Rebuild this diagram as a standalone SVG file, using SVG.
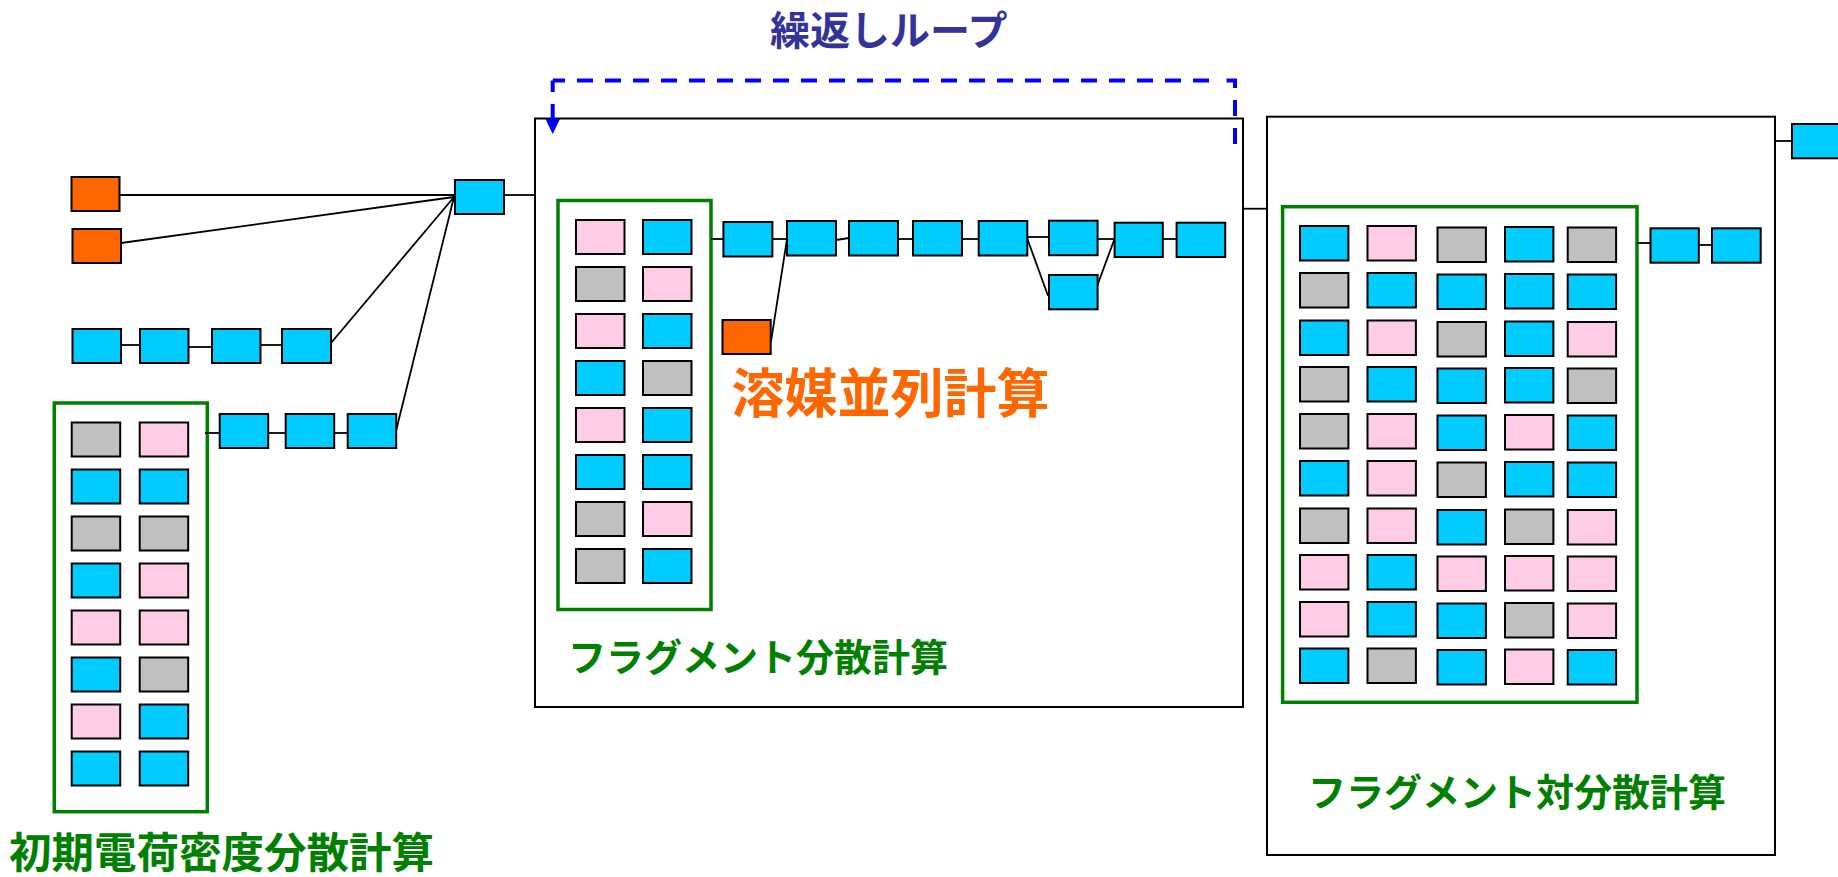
<svg xmlns="http://www.w3.org/2000/svg" width="1838" height="877" viewBox="0 0 1838 877">
<style>
.bx{stroke:#000;stroke-width:2}
.b{fill:#00CCFF}
.p{fill:#FFCCE5}
.g{fill:#C0C0C0}
.o{fill:#FF6600}
.frame{fill:none;stroke:#000;stroke-width:2}
.grp{fill:none;stroke:#008000;stroke-width:3.5}
.cn line{stroke:#000;stroke-width:1.8}
.lbl{font-family:"Noto Sans CJK JP","Noto Sans CJK SC",sans-serif;font-weight:bold}
.loop{fill:none;stroke:#0000FF;stroke-width:4;stroke-dasharray:16 12}
.arrowhead{fill:#0000FF}
</style>
<rect width="1838" height="877" fill="#fff"/>

<!-- frames and groups -->
<g id="frame-fragment"><rect class="frame" x="535" y="118.5" width="708" height="588.5"/></g>
<g id="frame-pair"><rect class="frame" x="1267" y="116.7" width="508" height="738.3"/></g>
<g id="group-initial"><rect class="grp" x="54.3" y="403" width="153" height="408.7"/></g>
<g id="group-fragment"><rect class="grp" x="558" y="200.5" width="153" height="409"/></g>
<g id="group-pair"><rect class="grp" x="1282.6" y="206.7" width="354.4" height="495.6"/></g>

<!-- connectors -->
<g id="connectors" class="cn">
<line x1="119.5" y1="195" x2="455" y2="195"/>
<line x1="121" y1="243" x2="454" y2="197"/>
<line x1="331" y1="343" x2="454" y2="197"/>
<line x1="396" y1="431" x2="454" y2="197"/>
<line x1="121" y1="345" x2="140" y2="345"/>
<line x1="188.5" y1="347" x2="212" y2="347"/>
<line x1="260.5" y1="345" x2="282" y2="345"/>
<line x1="205" y1="433" x2="219.7" y2="433"/>
<line x1="268.2" y1="433" x2="285.7" y2="433"/>
<line x1="334.2" y1="433" x2="347.7" y2="433"/>
<line x1="504" y1="195" x2="535" y2="195"/>
<line x1="711" y1="239" x2="723.4" y2="239"/>
<line x1="772.4" y1="239" x2="787" y2="239"/>
<line x1="836" y1="240" x2="849" y2="238"/>
<line x1="898" y1="239" x2="913" y2="239"/>
<line x1="962" y1="239" x2="978.7" y2="239"/>
<line x1="1027.3" y1="237" x2="1049" y2="237"/>
<line x1="1027.3" y1="238.7" x2="1048" y2="295.7"/>
<line x1="1097.6" y1="239" x2="1114.6" y2="239"/>
<line x1="1096" y1="289" x2="1114.6" y2="238.7"/>
<line x1="1162.8" y1="239" x2="1176.6" y2="239"/>
<line x1="771" y1="341.7" x2="787" y2="239"/>
<line x1="1243" y1="208.7" x2="1267" y2="208.7"/>
<line x1="1775" y1="141" x2="1792" y2="141"/>
<line x1="1637" y1="243" x2="1650.5" y2="243"/>
<line x1="1698.8" y1="245" x2="1712" y2="245"/>
<g id="loop-connector">
<path class="loop" d="M1235,144 V80.5 H1221"/>
<path class="loop" d="M1221,80.5 H552.7" stroke-dashoffset="16"/>
<path class="loop" d="M552.7,80.5 V120" stroke-dashoffset="4.5"/>
<polygon class="arrowhead" points="545.5,119 560,119 552.7,134"/>
</g>
</g>

<!-- initial stage nodes -->
<g id="n-orange1"><rect class="bx o" x="71.5" y="177" width="48" height="34"/></g>
<g id="n-orange2"><rect class="bx o" x="72.5" y="229" width="48.5" height="34"/></g>
<g id="n-hub"><rect class="bx b" x="455" y="180" width="49" height="34"/></g>
<g id="n-r2-1"><rect class="bx b" x="72.5" y="329" width="48.5" height="34"/></g>
<g id="n-r2-2"><rect class="bx b" x="140" y="329" width="48.5" height="34"/></g>
<g id="n-r2-3"><rect class="bx b" x="212" y="329" width="48.5" height="34"/></g>
<g id="n-r2-4"><rect class="bx b" x="282" y="329" width="49" height="34"/></g>
<g id="n-r3-1"><rect class="bx b" x="219.7" y="414" width="48.5" height="34"/></g>
<g id="n-r3-2"><rect class="bx b" x="285.7" y="414" width="48.5" height="34"/></g>
<g id="n-r3-3"><rect class="bx b" x="347.7" y="414" width="48.5" height="34"/></g>

<!-- initial group inner boxes -->
<g id="ia-1-1"><rect class="bx g" x="71.7" y="422.5" width="48.5" height="34"/></g>
<g id="ia-1-2"><rect class="bx p" x="139.7" y="422.5" width="48.5" height="34"/></g>
<g id="ia-2-1"><rect class="bx b" x="71.7" y="469.5" width="48.5" height="34"/></g>
<g id="ia-2-2"><rect class="bx b" x="139.7" y="469.5" width="48.5" height="34"/></g>
<g id="ia-3-1"><rect class="bx g" x="71.7" y="516.5" width="48.5" height="34"/></g>
<g id="ia-3-2"><rect class="bx g" x="139.7" y="516.5" width="48.5" height="34"/></g>
<g id="ia-4-1"><rect class="bx b" x="71.7" y="563.5" width="48.5" height="34"/></g>
<g id="ia-4-2"><rect class="bx p" x="139.7" y="563.5" width="48.5" height="34"/></g>
<g id="ia-5-1"><rect class="bx p" x="71.7" y="610.5" width="48.5" height="34"/></g>
<g id="ia-5-2"><rect class="bx p" x="139.7" y="610.5" width="48.5" height="34"/></g>
<g id="ia-6-1"><rect class="bx b" x="71.7" y="657.5" width="48.5" height="34"/></g>
<g id="ia-6-2"><rect class="bx g" x="139.7" y="657.5" width="48.5" height="34"/></g>
<g id="ia-7-1"><rect class="bx p" x="71.7" y="704.5" width="48.5" height="34"/></g>
<g id="ia-7-2"><rect class="bx b" x="139.7" y="704.5" width="48.5" height="34"/></g>
<g id="ia-8-1"><rect class="bx b" x="71.7" y="751.5" width="48.5" height="34"/></g>
<g id="ia-8-2"><rect class="bx b" x="139.7" y="751.5" width="48.5" height="34"/></g>

<!-- fragment group inner boxes -->
<g id="fa-1-1"><rect class="bx p" x="576" y="220" width="48.5" height="34"/></g>
<g id="fa-1-2"><rect class="bx b" x="643" y="220" width="48.5" height="34"/></g>
<g id="fa-2-1"><rect class="bx g" x="576" y="267" width="48.5" height="34"/></g>
<g id="fa-2-2"><rect class="bx p" x="643" y="267" width="48.5" height="34"/></g>
<g id="fa-3-1"><rect class="bx p" x="576" y="314" width="48.5" height="34"/></g>
<g id="fa-3-2"><rect class="bx b" x="643" y="314" width="48.5" height="34"/></g>
<g id="fa-4-1"><rect class="bx b" x="576" y="361" width="48.5" height="34"/></g>
<g id="fa-4-2"><rect class="bx g" x="643" y="361" width="48.5" height="34"/></g>
<g id="fa-5-1"><rect class="bx p" x="576" y="408" width="48.5" height="34"/></g>
<g id="fa-5-2"><rect class="bx b" x="643" y="408" width="48.5" height="34"/></g>
<g id="fa-6-1"><rect class="bx b" x="576" y="455" width="48.5" height="34"/></g>
<g id="fa-6-2"><rect class="bx b" x="643" y="455" width="48.5" height="34"/></g>
<g id="fa-7-1"><rect class="bx g" x="576" y="502" width="48.5" height="34"/></g>
<g id="fa-7-2"><rect class="bx p" x="643" y="502" width="48.5" height="34"/></g>
<g id="fa-8-1"><rect class="bx g" x="576" y="549" width="48.5" height="34"/></g>
<g id="fa-8-2"><rect class="bx b" x="643" y="549" width="48.5" height="34"/></g>

<!-- fragment chain -->
<g id="d1"><rect class="bx b" x="723.4" y="222" width="49" height="34.5"/></g>
<g id="d2"><rect class="bx b" x="787" y="221" width="49" height="34.5"/></g>
<g id="d3"><rect class="bx b" x="849" y="221" width="49" height="34.5"/></g>
<g id="d4"><rect class="bx b" x="913" y="221" width="49" height="34.5"/></g>
<g id="d5"><rect class="bx b" x="978.7" y="221" width="48.6" height="34.5"/></g>
<g id="d6"><rect class="bx b" x="1049" y="220.7" width="48.6" height="34.5"/></g>
<g id="d6b"><rect class="bx b" x="1049" y="275" width="48.6" height="34.3"/></g>
<g id="d7"><rect class="bx b" x="1114.6" y="222.7" width="48.2" height="34.3"/></g>
<g id="d8"><rect class="bx b" x="1176.6" y="222.7" width="48.6" height="34.3"/></g>
<g id="d-orange"><rect class="bx o" x="722.5" y="320" width="48.2" height="34"/></g>

<!-- pair group inner boxes -->
<g id="pa-1-1"><rect class="bx b" x="1300" y="226" width="48.4" height="34.5"/></g>
<g id="pa-1-2"><rect class="bx p" x="1367.5" y="226" width="48.4" height="34.5"/></g>
<g id="pa-1-3"><rect class="bx g" x="1437.5" y="227.5" width="48.4" height="34.5"/></g>
<g id="pa-1-4"><rect class="bx b" x="1505" y="227" width="48.4" height="34.5"/></g>
<g id="pa-1-5"><rect class="bx g" x="1567.7" y="227.5" width="48.4" height="34.5"/></g>
<g id="pa-2-1"><rect class="bx g" x="1300" y="273" width="48.4" height="34.5"/></g>
<g id="pa-2-2"><rect class="bx b" x="1367.5" y="273" width="48.4" height="34.5"/></g>
<g id="pa-2-3"><rect class="bx b" x="1437.5" y="274.5" width="48.4" height="34.5"/></g>
<g id="pa-2-4"><rect class="bx b" x="1505" y="274" width="48.4" height="34.5"/></g>
<g id="pa-2-5"><rect class="bx b" x="1567.7" y="274.5" width="48.4" height="34.5"/></g>
<g id="pa-3-1"><rect class="bx b" x="1300" y="320.5" width="48.4" height="34.5"/></g>
<g id="pa-3-2"><rect class="bx p" x="1367.5" y="320.5" width="48.4" height="34.5"/></g>
<g id="pa-3-3"><rect class="bx g" x="1437.5" y="322" width="48.4" height="34.5"/></g>
<g id="pa-3-4"><rect class="bx b" x="1505" y="321.5" width="48.4" height="34.5"/></g>
<g id="pa-3-5"><rect class="bx p" x="1567.7" y="322" width="48.4" height="34.5"/></g>
<g id="pa-4-1"><rect class="bx g" x="1300" y="367" width="48.4" height="34.5"/></g>
<g id="pa-4-2"><rect class="bx b" x="1367.5" y="367" width="48.4" height="34.5"/></g>
<g id="pa-4-3"><rect class="bx b" x="1437.5" y="368.5" width="48.4" height="34.5"/></g>
<g id="pa-4-4"><rect class="bx b" x="1505" y="368" width="48.4" height="34.5"/></g>
<g id="pa-4-5"><rect class="bx g" x="1567.7" y="368.5" width="48.4" height="34.5"/></g>
<g id="pa-5-1"><rect class="bx g" x="1300" y="414" width="48.4" height="34.5"/></g>
<g id="pa-5-2"><rect class="bx p" x="1367.5" y="414" width="48.4" height="34.5"/></g>
<g id="pa-5-3"><rect class="bx b" x="1437.5" y="415.5" width="48.4" height="34.5"/></g>
<g id="pa-5-4"><rect class="bx p" x="1505" y="415" width="48.4" height="34.5"/></g>
<g id="pa-5-5"><rect class="bx b" x="1567.7" y="415.5" width="48.4" height="34.5"/></g>
<g id="pa-6-1"><rect class="bx b" x="1300" y="461" width="48.4" height="34.5"/></g>
<g id="pa-6-2"><rect class="bx p" x="1367.5" y="461" width="48.4" height="34.5"/></g>
<g id="pa-6-3"><rect class="bx g" x="1437.5" y="462.5" width="48.4" height="34.5"/></g>
<g id="pa-6-4"><rect class="bx b" x="1505" y="462" width="48.4" height="34.5"/></g>
<g id="pa-6-5"><rect class="bx b" x="1567.7" y="462.5" width="48.4" height="34.5"/></g>
<g id="pa-7-1"><rect class="bx g" x="1300" y="508.5" width="48.4" height="34.5"/></g>
<g id="pa-7-2"><rect class="bx p" x="1367.5" y="508.5" width="48.4" height="34.5"/></g>
<g id="pa-7-3"><rect class="bx b" x="1437.5" y="510" width="48.4" height="34.5"/></g>
<g id="pa-7-4"><rect class="bx g" x="1505" y="509.5" width="48.4" height="34.5"/></g>
<g id="pa-7-5"><rect class="bx p" x="1567.7" y="510" width="48.4" height="34.5"/></g>
<g id="pa-8-1"><rect class="bx p" x="1300" y="555" width="48.4" height="34.5"/></g>
<g id="pa-8-2"><rect class="bx b" x="1367.5" y="555" width="48.4" height="34.5"/></g>
<g id="pa-8-3"><rect class="bx p" x="1437.5" y="556.5" width="48.4" height="34.5"/></g>
<g id="pa-8-4"><rect class="bx p" x="1505" y="556" width="48.4" height="34.5"/></g>
<g id="pa-8-5"><rect class="bx p" x="1567.7" y="556.5" width="48.4" height="34.5"/></g>
<g id="pa-9-1"><rect class="bx p" x="1300" y="602" width="48.4" height="34.5"/></g>
<g id="pa-9-2"><rect class="bx b" x="1367.5" y="602" width="48.4" height="34.5"/></g>
<g id="pa-9-3"><rect class="bx b" x="1437.5" y="603.5" width="48.4" height="34.5"/></g>
<g id="pa-9-4"><rect class="bx g" x="1505" y="603" width="48.4" height="34.5"/></g>
<g id="pa-9-5"><rect class="bx p" x="1567.7" y="603.5" width="48.4" height="34.5"/></g>
<g id="pa-10-1"><rect class="bx b" x="1300" y="648.5" width="48.4" height="34.5"/></g>
<g id="pa-10-2"><rect class="bx g" x="1367.5" y="648.5" width="48.4" height="34.5"/></g>
<g id="pa-10-3"><rect class="bx b" x="1437.5" y="650" width="48.4" height="34.5"/></g>
<g id="pa-10-4"><rect class="bx p" x="1505" y="649.5" width="48.4" height="34.5"/></g>
<g id="pa-10-5"><rect class="bx b" x="1567.7" y="650" width="48.4" height="34.5"/></g>

<!-- pair chain -->
<g id="e1"><rect class="bx b" x="1650.5" y="228.3" width="48.3" height="34.4"/></g>
<g id="e2"><rect class="bx b" x="1712" y="228.3" width="48.7" height="34.4"/></g>
<g id="e-top"><rect class="bx b" x="1792" y="124" width="50" height="34.3"/></g>

<!-- labels -->
<g id="lbl-loop"><text class="lbl" x="770" y="44.5" font-size="40" fill="#333399">繰返しループ</text></g>
<g id="lbl-solvent"><text class="lbl" x="731.5" y="413" font-size="53" fill="#FF6600">溶媒並列計算</text></g>
<g id="lbl-frag"><text class="lbl" x="568" y="670.5" font-size="38" fill="#008000">フラグメント分散計算</text></g>
<g id="lbl-pair"><text class="lbl" x="1308" y="805.5" font-size="38" fill="#008000">フラグメント対分散計算</text></g>
<g id="lbl-init"><text class="lbl" x="9" y="868" font-size="42.5" fill="#008000">初期電荷密度分散計算</text></g>
</svg>
